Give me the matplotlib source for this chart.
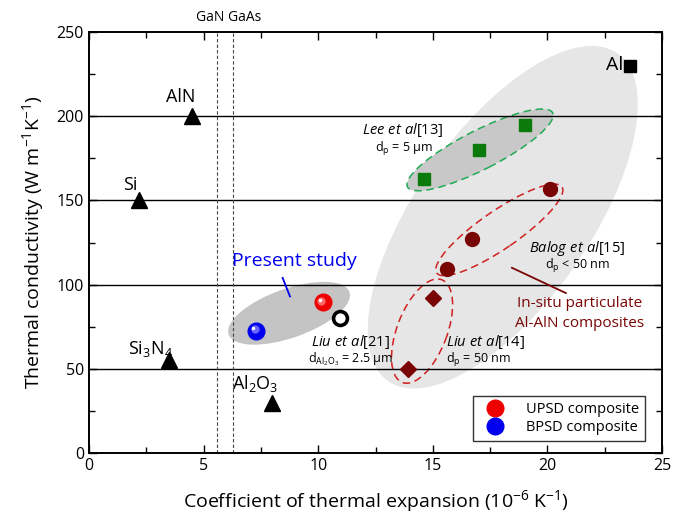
import matplotlib
matplotlib.use("Agg")
import matplotlib.pyplot as plt
from matplotlib.patches import Ellipse
from matplotlib.transforms import ScaledTranslation
from matplotlib.lines import Line2D
from matplotlib.ticker import MultipleLocator

plt.rcParams['font.family'] = ['Open Sans', 'DejaVu Sans']
plt.rcParams['mathtext.fontset'] = 'custom'
plt.rcParams['mathtext.rm'] = 'Open Sans'
plt.rcParams['mathtext.it'] = 'Open Sans:italic'

# reference materials (triangles)
ref_names = ['AlN', 'Si', 'Si$_3$N$_4$', 'Al$_2$O$_3$']
ref_cte = [4.5, 2.2, 3.5, 8.0]
ref_k = [200, 150, 55, 30]

# pure Al
al_cte = [23.6]
al_k = [230]

# Lee et al [13]
lee_cte = [14.6, 17.0, 19.0]
lee_k = [163, 180, 195]

# Balog et al [15]
balog_cte = [15.6, 16.7, 20.1]
balog_k = [109, 127, 157]

# Liu et al [14]
liu14_cte = [13.9, 15.0]
liu14_k = [50, 92]

# Liu et al [21]
liu21_cte = [10.95]
liu21_k = [80]

# present study
upsd_cte = [10.2]
upsd_k = [89.5]
bpsd_cte = [7.3]
bpsd_k = [72.5]

# CTE of GaN and GaAs (dashed lines)
semi_cte = [5.6, 6.3]

fig = plt.figure(figsize=(6.89, 5.16), dpi=100)
ax = fig.add_axes([0.129, 0.122, 0.832, 0.816])
ax.set_xlim(0, 25)
ax.set_ylim(0, 250)


def add_ellipse(cx, cy, w, h, angle, **kw):
    # center in data units, size in inches so the shape is not stretched
    tr = fig.dpi_scale_trans + ScaledTranslation(cx, cy, ax.transData)
    e = Ellipse((0, 0), w, h, angle=angle, transform=tr, **kw)
    ax.add_patch(e)


# shaded regions
add_ellipse(18.05, 140, 4.0, 1.74, 55, facecolor='#e6e6e6', edgecolor='none', zorder=0)
add_ellipse(17.06, 180, 1.63, 0.39, 27, facecolor='#c8c8c8', edgecolor='#22aa55',
            ls=(0, (5, 3)), lw=1.1, zorder=1)
add_ellipse(17.9, 132.5, 1.52, 0.38, 34.5, facecolor='none', edgecolor='#d02020',
            ls=(0, (5, 3)), lw=1.1, zorder=1)
add_ellipse(14.53, 72.4, 1.10, 0.50, 69, facecolor='none', edgecolor='#d02020',
            ls=(0, (5, 3)), lw=1.1, zorder=1)
add_ellipse(8.73, 83, 1.28, 0.49, 19.4, facecolor='#c4c4c4', edgecolor='none', zorder=1)

# grid lines
for yv in [50, 100, 150, 200]:
    ax.axhline(yv, color='black', lw=1.0, zorder=2)
for xv in semi_cte:
    ax.axvline(xv, color='#444444', lw=0.8, ls=(0, (3, 2)), zorder=2)

# markers
ax.plot(ref_cte, ref_k, '^', color='black', ms=11, ls='none', zorder=5)
ax.plot(al_cte, al_k, 's', color='black', ms=9, ls='none', zorder=5)
ax.plot(lee_cte, lee_k, 's', color='#0a7a0a', ms=9, ls='none', zorder=5)
ax.plot(balog_cte, balog_k, 'o', color='#7a0505', ms=10, ls='none', zorder=5)
ax.plot(liu14_cte, liu14_k, 'D', color='#7a0505', ms=8.5, ls='none', zorder=5)
ax.plot(liu21_cte, liu21_k, 'o', mfc='white', mec='black', mew=2.6, ms=10, ls='none', zorder=5)


def sphere(x, y, base, mid):
    ax.plot(x, y, 'o', color=base, mec=base, ms=12, ls='none', zorder=5)
    off = ax.transData + ScaledTranslation(-1.2 / 72, 1.2 / 72, fig.dpi_scale_trans)
    ax.plot(x, y, 'o', color=mid, mec='none', ms=6, ls='none', zorder=6, transform=off)
    off2 = ax.transData + ScaledTranslation(-2 / 72, 2 / 72, fig.dpi_scale_trans)
    ax.plot(x, y, 'o', color='white', mec='none', ms=2.5, ls='none', zorder=7, transform=off2)


sphere(upsd_cte, upsd_k, '#ee0000', '#ff6666')
sphere(bpsd_cte, bpsd_k, '#0000ee', '#6666ff')

# labels of reference materials
ax.text(4.0, 206, 'AlN', fontsize=13, ha='center', va='bottom')
ax.text(1.8, 154, 'Si', fontsize=13, ha='center', va='bottom')
ax.text(2.7, 56, 'Si$_3$N$_4$', fontsize=13, ha='center', va='bottom')
ax.text(7.25, 35, 'Al$_2$O$_3$', fontsize=13, ha='center', va='bottom')
ax.text(23.3, 225, 'Al', fontsize=14, ha='right', va='bottom')
fig.text(0.332, 0.967, 'GaN GaAs', fontsize=10, ha='center', va='center')

# literature labels
ax.text(13.7, 192, r'$\mathit{Lee\ et\ al}$[13]', fontsize=10.5, ha='center', va='center')
ax.text(13.75, 180.5, r'd$_\mathrm{p}$ = 5 μm', fontsize=9, ha='center', va='center')
ax.text(21.3, 121.5, r'$\mathit{Balog\ et\ al}$[15]', fontsize=10.5, ha='center', va='center')
ax.text(21.3, 111, r'd$_\mathrm{p}$ < 50 nm', fontsize=9, ha='center', va='center')
ax.text(17.3, 66, r'$\mathit{Liu\ et\ al}$[14]', fontsize=10.5, ha='center', va='center')
ax.text(17.0, 55, r'd$_\mathrm{p}$ = 50 nm', fontsize=9, ha='center', va='center')
ax.text(11.4, 66, r'$\mathit{Liu\ et\ al}$[21]', fontsize=10.5, ha='center', va='center')
ax.text(11.4, 56, r'd$_{\mathrm{Al_2O_3}}$ = 2.5 μm', fontsize=9, ha='center', va='center')

ax.text(8.95, 114, 'Present study', fontsize=14, color='#0000ee', ha='center', va='center')
ax.plot([8.45, 8.77], [104, 93], color='#0000ee', lw=1.3, zorder=4)

ax.text(21.4, 83, 'In-situ particulate\nAl-AlN composites', fontsize=11, color='#7a0505',
        ha='center', va='center', linespacing=1.45)
ax.plot([18.45, 20.8], [110, 95], color='#7a0505', lw=1.3, zorder=4)

# legend
handles = [
    Line2D([], [], marker='o', ls='none', color='#ee0000', ms=12),
    Line2D([], [], marker='o', ls='none', color='#0000ee', ms=12),
]
leg = ax.legend(handles, ['UPSD composite', 'BPSD composite'], loc='lower right',
                bbox_to_anchor=(0.97, 0.028), borderaxespad=0, fontsize=10.5, frameon=True,
                fancybox=False, edgecolor='black', handletextpad=1.0, borderpad=0.4,
                labelspacing=0.25, handlelength=2.2)
leg.get_frame().set_linewidth(1.0)
leg.set_zorder(8)

# axes styling
ax.xaxis.set_major_locator(MultipleLocator(5))
ax.xaxis.set_minor_locator(MultipleLocator(2.5))
ax.yaxis.set_major_locator(MultipleLocator(50))
ax.yaxis.set_minor_locator(MultipleLocator(25))
ax.tick_params(which='both', direction='in', top=True, right=True, labelsize=11.5, width=1.0)
ax.tick_params(which='major', length=6)
ax.tick_params(which='minor', length=4)
for sp in ax.spines.values():
    sp.set_linewidth(1.4)
    sp.set_zorder(9)

ax.set_xlabel('Coefficient of thermal expansion (10$^{-6}$ K$^{-1}$)', fontsize=14, labelpad=10)
ax.set_ylabel('Thermal conductivity (W m$^{-1}$K$^{-1}$)', fontsize=14, labelpad=8)

fig.savefig('out.png', dpi=100)
